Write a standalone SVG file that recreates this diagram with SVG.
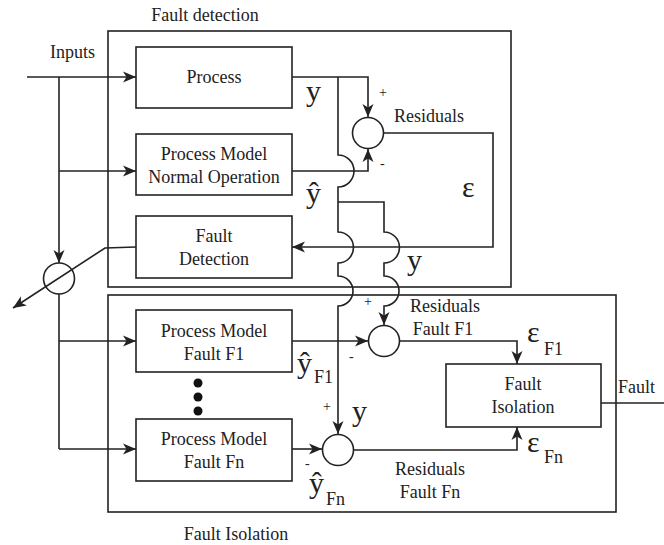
<svg xmlns="http://www.w3.org/2000/svg" width="664" height="545" viewBox="0 0 664 545">
<defs>
<marker id="arr" markerUnits="userSpaceOnUse" markerWidth="14" markerHeight="12" refX="13" refY="5.5" orient="auto" overflow="visible">
<path d="M0,0 L13,5.5 L0,11 L3.5,5.5 Z" fill="#222"/>
</marker>
<style>
.b{fill:#fff;stroke:#222;stroke-width:1.6}
.f{fill:none;stroke:#222;stroke-width:1.6}
.c{fill:none;stroke:#222;stroke-width:1.6}
.a{marker-end:url(#arr)}
text{font-family:"Liberation Serif","Times New Roman",serif;fill:#222}
.t{font-size:18px;text-anchor:middle}
.l{font-size:18px}
.g{font-size:30px}
.s{font-size:18px}
.p{font-size:14px}
</style>
</defs>
<g id="frames">
<rect class="f" x="108" y="31" width="403" height="256"/>
<rect class="f" x="108" y="295" width="508" height="217"/>
<text class="t" x="205" y="21">Fault detection</text>
<text class="t" x="236" y="540">Fault Isolation</text>
</g>
<g id="connectors">
<path class="c a" d="M27,77 L136,77"/>
<path class="c a" d="M59,77 L59,263"/>
<path class="c a" d="M59,171 L136,171"/>
<path class="c" d="M59,294 L59,449"/>
<path class="c a" d="M59,341 L136,341"/>
<path class="c a" d="M59,449 L136,449"/>
<path class="c a" d="M136,247 L105,248 L13,308"/>
<path class="c a" d="M292,77 L368,77 L368,117"/>
<path class="c a" d="M292,171 L368,171 L368,149"/>
<path class="c a" d="M338,77 L338,155 A16,16 0 0 1 338,187 L338,232 A15.5,15.5 0 0 1 338,263 L338,276 A15,15 0 0 1 338,306 L338,434"/>
<path class="c a" d="M338,202 L384,202 L384,232 A15.5,15.5 0 0 1 384,263 L384,276 A15,15 0 0 1 384,306 L384,325"/>
<path class="c a" d="M384,133 L493,133 L493,247 L292,247"/>
<path class="c a" d="M292,341 L368,341"/>
<path class="c a" d="M400,341 L517,341 L517,364"/>
<path class="c a" d="M292,449 L322,449"/>
<path class="c a" d="M354,450 L517,450 L517,427"/>
<path class="c" d="M601,403 L664,403"/>
</g>
<g id="process">
<rect class="b" x="136" y="47" width="156" height="61"/>
<text class="t" x="214" y="83">Process</text>
</g>
<g id="model-normal">
<rect class="b" x="136" y="134" width="156" height="61"/>
<text class="t" x="214" y="160">Process Model</text>
<text class="t" x="214" y="183">Normal Operation</text>
</g>
<g id="fault-detection">
<rect class="b" x="136" y="216" width="156" height="62"/>
<text class="t" x="214" y="242">Fault</text>
<text class="t" x="214" y="265">Detection</text>
</g>
<g id="model-f1">
<rect class="b" x="136" y="310" width="156" height="62"/>
<text class="t" x="214" y="337">Process Model</text>
<text class="t" x="214" y="360">Fault F1</text>
</g>
<g id="dots">
<circle cx="198" cy="383" r="4.5" fill="#111"/>
<circle cx="198" cy="397" r="4.5" fill="#111"/>
<circle cx="198" cy="411" r="4.5" fill="#111"/>
</g>
<g id="model-fn">
<rect class="b" x="136" y="419" width="156" height="62"/>
<text class="t" x="214" y="445">Process Model</text>
<text class="t" x="214" y="468">Fault Fn</text>
</g>
<g id="fault-isolation">
<rect class="b" x="446" y="364" width="155" height="63"/>
<text class="t" x="523" y="390">Fault</text>
<text class="t" x="523" y="413">Isolation</text>
</g>
<g id="switch">
<circle class="b" cx="59" cy="278.5" r="15.5" fill="none" style="fill:none"/>
</g>
<g id="sum-residual">
<circle class="b" cx="368" cy="133" r="15.5"/>
</g>
<g id="sum-f1">
<circle class="b" cx="384" cy="341" r="15.5"/>
</g>
<g id="sum-fn">
<circle class="b" cx="338" cy="450" r="15.5"/>
</g>
<g id="labels">
<text class="l" x="50" y="58">Inputs</text>
<text class="g" x="306" y="101">y</text>
<text class="g" x="306" y="203">ŷ</text>
<text class="g" x="407" y="270">y</text>
<text class="g" x="462" y="197">ε</text>
<text class="p" x="379" y="97">+</text>
<text class="p" x="380" y="168">-</text>
<text class="l" x="394" y="122">Residuals</text>
<text class="p" x="364" y="306">+</text>
<text class="p" x="349" y="361">-</text>
<text class="t" x="445" y="312">Residuals</text>
<text class="t" x="443" y="335">Fault F1</text>
<text class="g" x="297" y="373">ŷ</text>
<text class="s" x="314" y="383">F1</text>
<text class="p" x="323" y="411">+</text>
<text class="p" x="305" y="468">-</text>
<text class="g" x="352" y="421">y</text>
<text class="g" x="309" y="493">ŷ</text>
<text class="s" x="326" y="505">Fn</text>
<text class="t" x="430" y="475">Residuals</text>
<text class="t" x="430" y="498">Fault Fn</text>
<text class="g" x="527" y="342">ε</text>
<text class="s" x="544" y="355">F1</text>
<text class="g" x="527" y="452">ε</text>
<text class="s" x="544" y="463">Fn</text>
<text class="l" x="618" y="393">Fault</text>
</g>
</svg>
